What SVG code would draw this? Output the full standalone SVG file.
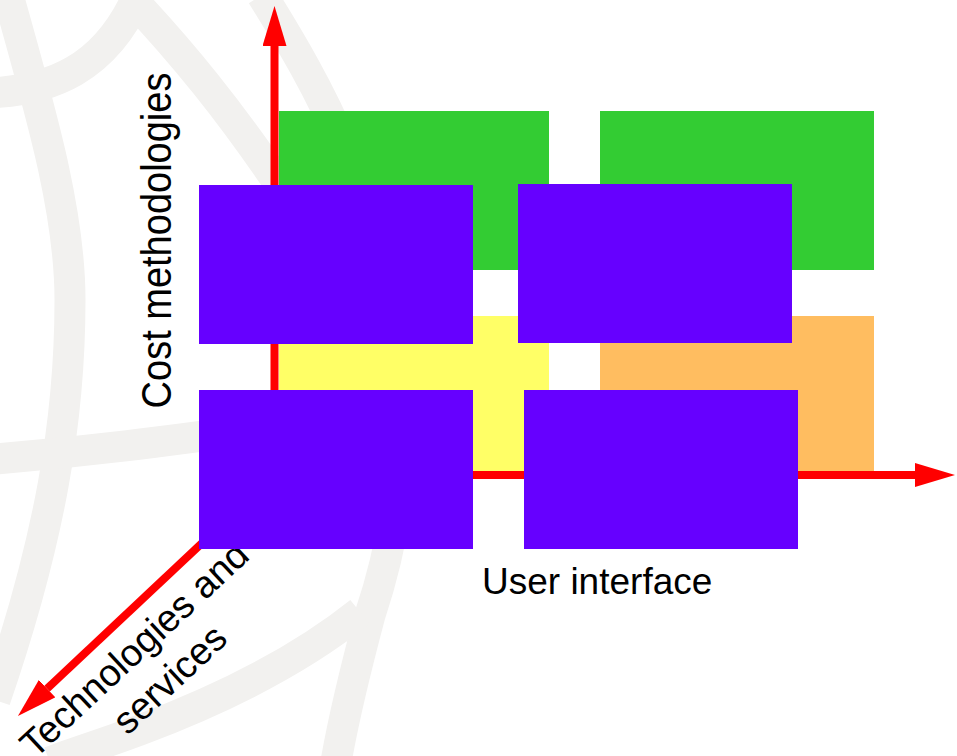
<svg xmlns="http://www.w3.org/2000/svg" width="957" height="756" viewBox="0 0 957 756">
  <style>
    .globe { fill: none; stroke: #F2F1EF; stroke-width: 31; stroke-linecap: butt; }
    .axis { fill: none; stroke: #FF0000; stroke-width: 8; }
    .label { font-family: "Liberation Sans", Arial, sans-serif; fill: #000000; }
    .green { fill: #33CC33; }
    .yellow { fill: #FFFF66; }
    .orange { fill: #FFBD60; }
    .purple { fill: #6600FF; }
  </style>
  <defs>
    <marker id="arrow" markerUnits="userSpaceOnUse" viewBox="0 0 40 24" markerWidth="40" markerHeight="24" refX="0" refY="12" orient="auto">
      <polygon points="0,0 40,12 0,24" fill="#FF0000"/>
    </marker>
  </defs>

  <rect width="957" height="756" fill="#FFFFFF"/>

  <!-- faint globe watermark -->
  <g id="watermark">
    <path class="globe" d="M 8,-5 C 40,110 70,210 70,300 C 70,420 50,540 -5,700"/>
    <path class="globe" d="M -10,93 C 50,90 105,70 138,-5"/>
    <path class="globe" d="M 128,-5 C 180,50 230,110 290,200"/>
    <path class="globe" d="M 262,-5 C 290,40 320,90 345,150 C 370,210 385,260 392,320"/>
    <path class="globe" d="M -5,459 C 80,452 150,444 320,420"/>
    <path class="globe" d="M 400,470 C 396,520 385,570 370,615 C 358,660 345,710 336,762"/>
    <path class="globe" d="M 360,612 C 300,660 220,700 140,730 C 100,745 75,752 50,762"/>
  </g>

  <!-- quadrant blocks -->
  <g id="block-top-left"><rect class="green" x="279" y="111" width="270" height="159"/></g>
  <g id="block-top-right"><rect class="green" x="600" y="111" width="274" height="159"/></g>
  <g id="block-bottom-left"><rect class="yellow" x="279" y="316" width="270" height="155"/></g>
  <g id="block-bottom-right"><rect class="orange" x="600" y="316" width="274" height="155"/></g>

  <!-- axes -->
  <g id="connectors">
    <line class="axis" x1="274.5" y1="479" x2="274.5" y2="46" marker-end="url(#arrow)"/>
    <line class="axis" x1="270.5" y1="475" x2="915" y2="475" marker-end="url(#arrow)"/>
    <line class="axis" x1="274.5" y1="475" x2="47.1" y2="688.6" marker-end="url(#arrow)"/>
  </g>

  <!-- axis labels -->
  <g id="label-cost">
    <text class="label" font-size="38" text-anchor="middle" transform="translate(171,240.5) rotate(-90) scale(1,1.1)">Cost methodologies</text>
  </g>
  <g id="label-tech">
    <text class="label" font-size="38" text-anchor="middle" transform="translate(147,655) rotate(-43)">
      <tspan x="0" y="0">Technologies and</tspan>
      <tspan x="0" y="46">services</tspan>
    </text>
  </g>
  <g id="label-ui">
    <text class="label" x="482" y="593.5" font-size="37">User interface</text>
  </g>

  <!-- overlay blocks -->
  <g id="overlay-top-left"><rect class="purple" x="199" y="185" width="274" height="159"/></g>
  <g id="overlay-top-right"><rect class="purple" x="518" y="184" width="274" height="159"/></g>
  <g id="overlay-bottom-left"><rect class="purple" x="199" y="390" width="274" height="159"/></g>
  <g id="overlay-bottom-right"><rect class="purple" x="524" y="390" width="274" height="159"/></g>
</svg>
